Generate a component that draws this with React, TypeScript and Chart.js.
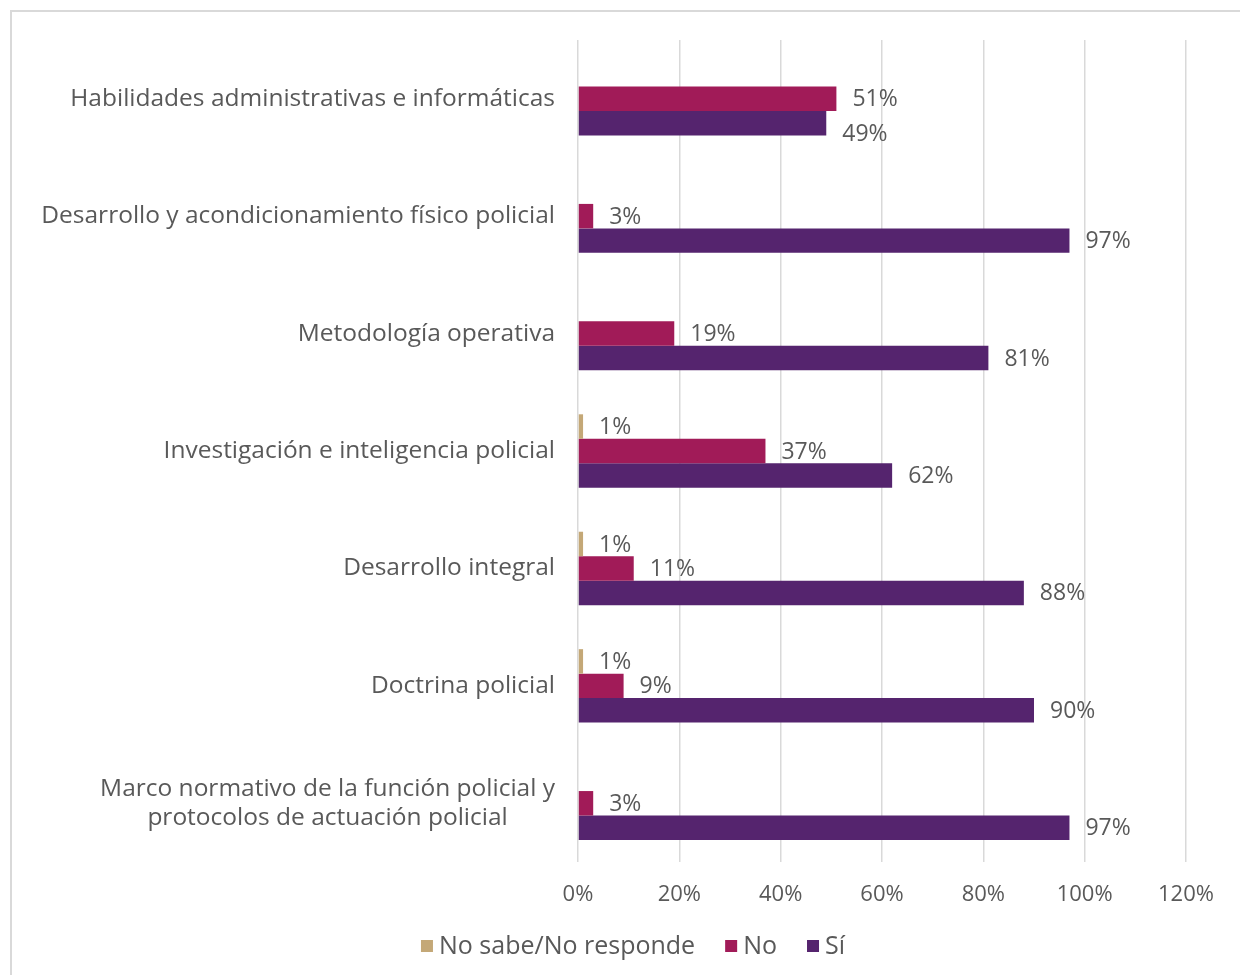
import React, { useEffect, useRef } from "react";
import { Chart, registerables } from "chart.js";

Chart.register(...registerables);

const categories: string[][] = [
  ["Habilidades administrativas e informáticas"],
  ["Desarrollo y acondicionamiento físico policial"],
  ["Metodología operativa"],
  ["Investigación e inteligencia policial"],
  ["Desarrollo integral"],
  ["Doctrina policial"],
  ["Marco normativo de la función policial y", "protocolos de actuación policial"],
];
const noSabe = [0, 0, 0, 1, 1, 1, 0];
const no = [51, 3, 19, 37, 11, 9, 3];
const si = [49, 97, 81, 62, 88, 90, 97];
const seriesNames = ["No sabe/No responde", "No", "Sí"];
const seriesColors = ["#C4A877", "#A11B58", "#55246E"];
const xTickValues = [0, 20, 40, 60, 80, 100, 120];

const FONT = "'Open Sans', sans-serif";
const TEXT = "#595959";
const W = 1228;
const H = 963;
const PLOT_LEFT = 566;
const PLOT_RIGHT = 1174;
const PLOT_TOP = 28;
const PLOT_BOTTOM = 850;
const X_AXIS_H = 50;

const customDraw = {
  id: "customDraw",
  afterDatasetsDraw(chart: any) {
    const ctx = chart.ctx;
    ctx.save();
    ctx.font = `23px ${FONT}`;
    ctx.fillStyle = TEXT;
    ctx.textAlign = "left";
    ctx.textBaseline = "middle";
    chart.data.datasets.forEach((ds: any, di: number) => {
      const meta = chart.getDatasetMeta(di);
      meta.data.forEach((bar: any, i: number) => {
        const v = ds.data[i];
        if (!v) return;
        // the first "Sí" label was nudged down in the original to avoid overlap
        const dy = di === 2 && i === 0 ? 10 : 0;
        ctx.fillText(`${v}%`, bar.x + 16, bar.y + 1 + dy);
      });
    });
    ctx.restore();
  },
  afterDraw(chart: any) {
    const ctx = chart.ctx;
    const y = chart.scales.y;
    ctx.save();
    ctx.font = `24.5px ${FONT}`;
    ctx.fillStyle = TEXT;
    ctx.textBaseline = "middle";
    ctx.textAlign = "center";
    const right = PLOT_LEFT - 23;
    const lh = 29;
    categories.forEach((lines, i) => {
      const cy = y.getPixelForValue(i);
      const bw = Math.max(...lines.map((l) => ctx.measureText(l).width));
      lines.forEach((l, j) => {
        ctx.fillText(l, right - bw / 2, cy + (j - (lines.length - 1) / 2) * lh);
      });
    });
    // legend
    ctx.font = `25px ${FONT}`;
    const box = 12;
    const gap = 6;
    const spacing = 30;
    const widths = seriesNames.map((n) => box + gap + ctx.measureText(n).width);
    const total = widths.reduce((a, b) => a + b, 0) + spacing * (widths.length - 1);
    let x = 621 - total / 2;
    const ly = 934;
    ctx.textAlign = "left";
    seriesNames.forEach((n, k) => {
      ctx.fillStyle = seriesColors[k];
      ctx.fillRect(x, ly - box / 2, box, box);
      ctx.fillStyle = TEXT;
      ctx.fillText(n, x + box + gap, ly + 1);
      x += widths[k] + spacing;
    });
    ctx.restore();
  },
};

export default function App() {
  const ref = useRef<HTMLCanvasElement | null>(null);
  useEffect(() => {
    if (!ref.current) return;
    const chart = new Chart(ref.current, {
      type: "bar",
      data: {
        labels: categories.map((c) => c.join(" ")),
        datasets: [
          { label: seriesNames[0], data: noSabe, backgroundColor: seriesColors[0] },
          { label: seriesNames[1], data: no, backgroundColor: seriesColors[1] },
          { label: seriesNames[2], data: si, backgroundColor: seriesColors[2] },
        ],
      },
      options: {
        indexAxis: "y",
        responsive: false,
        animation: false,
        datasets: { bar: { categoryPercentage: 0.625, barPercentage: 1 } },
        layout: {
          padding: {
            left: 0,
            top: PLOT_TOP,
            right: W - PLOT_RIGHT,
            bottom: H - PLOT_BOTTOM - X_AXIS_H,
          },
        },
        plugins: {
          legend: { display: false },
          tooltip: { enabled: false },
        },
        scales: {
          x: {
            min: 0,
            max: 120,
            afterBuildTicks: (s: any) => {
              s.ticks = xTickValues.map((v) => ({ value: v }));
            },
            afterFit: (s: any) => {
              s.height = X_AXIS_H;
            },
            grid: { color: "#d9d9d9", lineWidth: 1.5, drawTicks: false },
            border: { display: false },
            ticks: {
              padding: 20,
              color: TEXT,
              font: { family: FONT, size: 22 },
              callback: (v: any) => `${v}%`,
            },
          },
          y: {
            afterFit: (s: any) => {
              s.width = PLOT_LEFT;
            },
            grid: { display: false, drawTicks: false },
            border: { display: false },
            ticks: { display: false },
          },
        },
      },
      plugins: [customDraw],
    });
    return () => chart.destroy();
  }, []);

  return (
    <div
      style={{
        position: "fixed",
        left: 0,
        top: 0,
        width: 1240,
        height: 975,
        overflow: "hidden",
        background: "#fff",
      }}
    >
      <div
        style={{
          position: "absolute",
          left: 10,
          top: 10,
          width: 1260,
          height: 1000,
          border: "2px solid #d9d9d9",
          boxSizing: "border-box",
        }}
      >
        <canvas ref={ref} width={W} height={H} style={{ display: "block", width: W, height: H }} />
      </div>
    </div>
  );
}
